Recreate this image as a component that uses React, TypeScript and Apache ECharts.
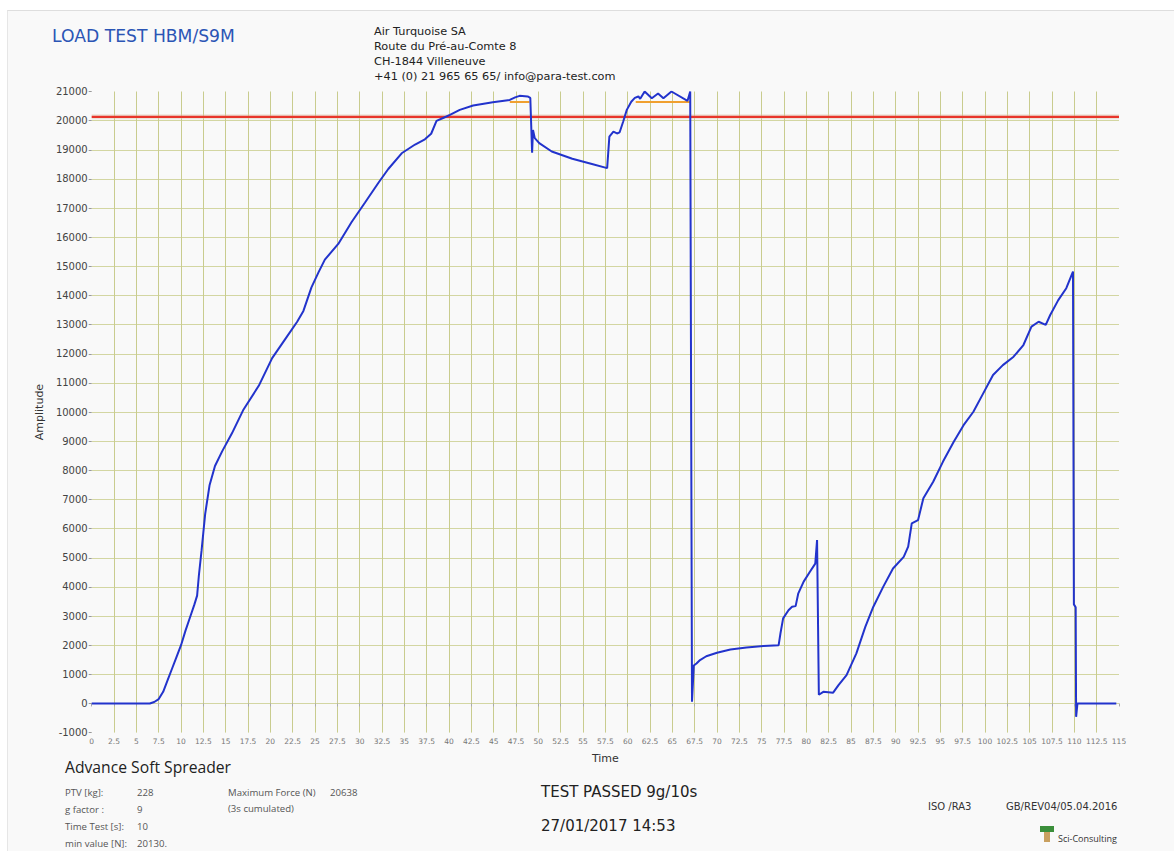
import React, { useEffect, useRef } from "react";
import * as echarts from "echarts";

// ---- data ----
const timeS: number[] = [
  0, 6.5, 7, 7.5, 8, 8.5, 9, 9.5, 10, 10.5, 11, 11.5, 11.8, 12.0, 12.3, 12.7, 13.2, 13.8, 14.6, 15.7,
  17.0, 18.7, 20.2, 21.7, 23.0, 23.7, 24.6, 25.4, 26.1, 27.6, 29.1, 30.6, 32.1, 33.2, 34.7, 36.2,
  37.3, 38.0, 38.6, 39.4, 40.1, 41.2, 42.7, 44.9, 46.8, 47.4, 47.9, 48.8, 49.1, 49.3, 49.4, 49.6,
  50.1, 51.5, 53.8, 56.0, 57.7, 57.95, 58.4, 58.8, 59.1, 59.5, 59.9, 60.4, 60.8, 61.2, 61.4, 61.9,
  62.7, 63.4, 64.0, 64.9, 66.7, 67.0, 67.2, 67.4, 67.7, 68.1, 68.8, 70.0, 71.5, 73.3, 75.2, 76.9,
  77.1, 77.4, 78.0, 78.4, 78.8, 79.1, 79.7, 80.4, 81.0, 81.2, 81.4, 81.9, 83.0, 83.6, 84.5, 85.6,
  86.6, 87.5, 88.6, 89.7, 90.9, 91.4, 91.8, 92.5, 93.1, 94.2, 95.3, 96.5, 97.6, 98.7, 99.8, 100.9,
  102.0, 103.2, 104.3, 105.2, 106.0, 106.8, 107.3, 108.2, 109.1, 109.85, 109.95, 110.15, 110.2,
  110.35, 114.7,
];
const amplitudeN: number[] = [
  0, 0, 50, 150, 400, 800, 1200, 1600, 2000, 2500, 2950, 3400, 3700, 4400, 5250, 6500, 7500, 8150, 8650, 9270,
  10090, 10900, 11850, 12520, 13100, 13470, 14280, 14800, 15230, 15770, 16520, 17190, 17870, 18340, 18880, 19180,
  19360, 19550, 19990, 20100, 20200, 20370, 20520, 20630, 20710, 20800, 20850, 20830, 20780, 18900, 19680, 19400,
  19230, 18940, 18690, 18510, 18370, 19450, 19620, 19560, 19600, 19970, 20370, 20650, 20780, 20830, 20750, 21000,
  20770, 20930, 20770, 21000, 20680, 21000, 60, 1300, 1370, 1490, 1620, 1740, 1850, 1920, 1970, 2000,
  2400, 2920, 3200, 3320, 3340, 3780, 4180, 4520, 4800, 5610, 300, 400, 370, 630, 970, 1720,
  2630, 3320, 4000, 4630, 5030, 5380, 6180, 6290, 7040, 7610, 8300, 8980, 9550, 10010, 10640, 11270,
  11610, 11900, 12300, 12930, 13100, 12990, 13330, 13840, 14250, 14820, 3400, 3300, -460,
  0, 0,
];
const minValueN = 20130;
const maxForceN = 20638;
const maxForceWindows: number[][] = [
  [46.8, 49.0],
  [60.9, 67.0],
];
const xMin = 0, xMax = 115, xStep = 2.5;
const yMin = -1000, yMax = 21000, yStep = 1000;

const titleText = "LOAD TEST HBM/S9M";
const addressLines = [
  "Air Turquoise SA",
  "Route du Pré-au-Comte 8",
  "CH-1844 Villeneuve",
  "+41 (0) 21 965 65 65/ info@para-test.com",
];
const productName = "Advance Soft Spreader";
const infoLabels = ["PTV [kg]:", "g factor :", "Time Test [s]:", "min value [N]:"];
const infoValues = ["228", "9", "10", "20130."];

const SANS = "'DejaVu Sans', Verdana, sans-serif";
const UI = "'Open Sans', 'Noto Sans', sans-serif";

export default function App() {
  const ref = useRef<HTMLDivElement>(null);
  useEffect(() => {
    if (!ref.current) return;
    const chart = echarts.init(ref.current, undefined, { renderer: "svg" });
    const curve = timeS.map((t, i) => [t, amplitudeN[i]]);
    const orangeSeries = maxForceWindows.map((w, i) => ({
      type: "line",
      name: "maxforce" + i,
      data: [[w[0], maxForceN], [w[1], maxForceN]],
      symbol: "none",
      lineStyle: { color: "#f0a030", width: 2 },
      z: 3,
    }));
    const graphic: any[] = [
      { type: "text", x: 52, y: 36, style: { text: titleText, font: `17.2px ${SANS}`, fill: "#2b55b5", textVerticalAlign: "middle" } },
      ...addressLines.map((s, i) => ({
        type: "text", x: 374, y: 31 + i * 15,
        style: { text: s, font: `11.3px ${SANS}`, fill: "#222", textVerticalAlign: "middle" },
      })),
      { type: "text", x: 65, y: 767, style: { text: productName, font: `15.7px ${UI}`, fill: "#222", textVerticalAlign: "middle" } },
      ...infoLabels.map((s, i) => ({
        type: "text", x: 65, y: 792 + i * 17,
        style: { text: s, font: `9.6px ${UI}`, fill: "#555", textVerticalAlign: "middle" },
      })),
      ...infoValues.map((s, i) => ({
        type: "text", x: 137, y: 792 + i * 17,
        style: { text: s, font: `9.6px ${UI}`, fill: "#555", textVerticalAlign: "middle" },
      })),
      { type: "text", x: 228, y: 792, style: { text: "Maximum Force (N)", font: `9.6px ${UI}`, fill: "#555", textVerticalAlign: "middle" } },
      { type: "text", x: 330, y: 792, style: { text: String(maxForceN), font: `9.6px ${UI}`, fill: "#555", textVerticalAlign: "middle" } },
      { type: "text", x: 228, y: 808, style: { text: "(3s cumulated)", font: `9.6px ${UI}`, fill: "#555", textVerticalAlign: "middle" } },
      { type: "text", x: 541, y: 792, style: { text: "TEST PASSED 9g/10s", font: `15px ${SANS}`, fill: "#222", textVerticalAlign: "middle" } },
      { type: "text", x: 541, y: 826, style: { text: "27/01/2017 14:53", font: `15px ${SANS}`, fill: "#222", textVerticalAlign: "middle" } },
      { type: "text", x: 928, y: 806, style: { text: "ISO /RA3", font: `10px ${SANS}`, fill: "#333", textVerticalAlign: "middle" } },
      { type: "text", x: 1006, y: 806, style: { text: "GB/REV04/05.04.2016", font: `10px ${SANS}`, fill: "#333", textVerticalAlign: "middle" } },
      { type: "rect", shape: { x: 1040, y: 826, width: 14, height: 6 }, style: { fill: "#3b8f3b" } },
      { type: "rect", shape: { x: 1044, y: 832, width: 6, height: 10 }, style: { fill: "#c9a060" } },
      { type: "text", x: 1058, y: 838, style: { text: "Sci-Consulting", font: `9px ${UI}`, fill: "#333", textVerticalAlign: "middle" } },
    ];
    chart.setOption({
      animation: false,
      graphic,
      grid: { left: 91.7, top: 91.5, width: 1027.3, height: 641.1, containLabel: false },
      xAxis: {
        type: "value",
        min: xMin,
        max: xMax,
        interval: xStep,
        name: "Time",
        nameLocation: "middle",
        nameGap: 20,
        nameTextStyle: { fontFamily: SANS, fontSize: 11, color: "#333" },
        axisLine: { show: false },
        axisTick: { show: true, length: 3, lineStyle: { color: "#aaa" } },
        axisLabel: { fontFamily: SANS, fontSize: 7.5, color: "#777", margin: 5, formatter: (v: number) => String(v) },
        splitLine: { show: true, showMinLine: false, showMaxLine: false, lineStyle: { color: "#c9cc8e", width: 1 } },
      },
      yAxis: {
        type: "value",
        min: yMin,
        max: yMax,
        interval: yStep,
        name: "Amplitude",
        nameLocation: "middle",
        nameRotate: 90,
        nameGap: 44,
        nameTextStyle: { fontFamily: SANS, fontSize: 11, color: "#333" },
        axisLine: { show: false },
        axisTick: { show: true, length: 3, lineStyle: { color: "#999" } },
        axisLabel: { fontFamily: SANS, fontSize: 10, color: "#444", margin: 4, formatter: (v: number) => String(v) },
        splitLine: { show: true, showMinLine: false, showMaxLine: false, lineStyle: { color: "#d3d6a2", width: 1 } },
      },
      series: [
        {
          type: "line",
          name: "minband",
          data: [[xMin, minValueN], [xMax, minValueN]],
          symbol: "none",
          lineStyle: { color: "rgba(220,200,175,0.45)", width: 5 },
          z: 1,
          silent: true,
        },
        {
          type: "line",
          name: "minvalue",
          data: [[xMin, minValueN], [xMax, minValueN]],
          symbol: "none",
          lineStyle: { color: "#e8352b", width: 2.3 },
          z: 2,
        },
        ...orangeSeries,
        {
          type: "line",
          name: "amplitude",
          data: curve,
          symbol: "none",
          lineStyle: { color: "#2233cc", width: 2 },
          z: 4,
        },
      ],
    });
    return () => chart.dispose();
  }, []);
  return (
    <div style={{ position: "fixed", left: 0, top: 0, width: 1174, height: 851, background: "#fff" }}>
      <div
        style={{
          position: "absolute", left: 7, top: 10, width: 1167, height: 841,
          background: "#f9f9f9", borderTop: "1px solid #dedede", borderLeft: "1px solid #e6e6e6",
          boxSizing: "border-box",
        }}
      />
      <div ref={ref} style={{ position: "absolute", left: 0, top: 0, width: 1174, height: 851 }} />
    </div>
  );
}
